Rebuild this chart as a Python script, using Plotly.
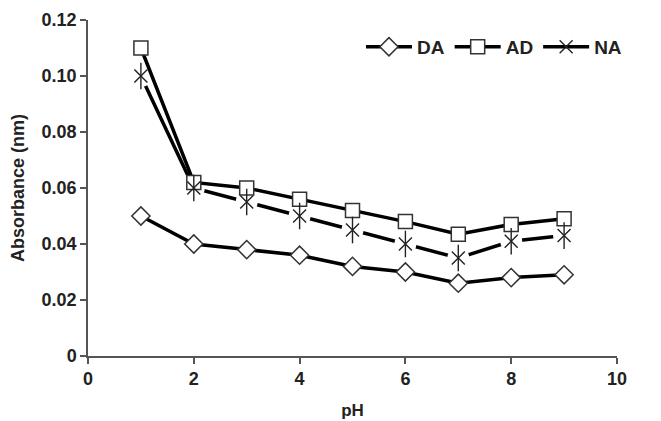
import plotly.graph_objects as go

ph = [1, 2, 3, 4, 5, 6, 7, 8, 9]
da = [0.050, 0.040, 0.038, 0.036, 0.032, 0.030, 0.026, 0.028, 0.029]
ad = [0.110, 0.062, 0.060, 0.056, 0.052, 0.048, 0.0435, 0.047, 0.049]
na = [0.100, 0.060, 0.055, 0.050, 0.045, 0.040, 0.035, 0.041, 0.043]

y_ticks = [0, 0.02, 0.04, 0.06, 0.08, 0.10, 0.12]
y_labels = ["0", "0.02", "0.04", "0.06", "0.08", "0.10", "0.12"]
x_ticks = [0, 2, 4, 6, 8, 10]

font_family = "Liberation Sans, Arial, sans-serif"
ink = "#222"

fig = go.Figure()
fig.add_trace(go.Scatter(
    x=ph, y=da, name="<b>DA</b>", mode="lines+markers",
    line=dict(color="black", width=3.5),
    marker=dict(symbol="diamond", size=14, color="white", line=dict(color="#333", width=1.5)),
    legendrank=1,
))
fig.add_trace(go.Scatter(
    x=ph, y=na, name="<b>NA</b>", mode="lines+markers",
    line=dict(color="black", width=3.5),
    marker=dict(symbol="x-thin-open", size=13, color=ink, line=dict(color=ink, width=1.4)),
    legendrank=3,
))
# white halo around the NA markers (gap in the line)
fig.add_trace(go.Scatter(
    x=ph, y=na, mode="markers", showlegend=False, hoverinfo="skip",
    marker=dict(symbol="circle", size=22, color="white", line=dict(width=0)),
))
fig.add_trace(go.Scatter(
    x=ph, y=ad, name="<b>AD</b>", mode="lines+markers",
    line=dict(color="black", width=3.5),
    marker=dict(symbol="square", size=14, color="white", line=dict(color="#333", width=1.5)),
    legendrank=2,
))
fig.add_trace(go.Scatter(
    x=ph, y=na, mode="markers", showlegend=False, hoverinfo="skip",
    marker=dict(symbol="x-thin-open", size=13, color=ink, line=dict(color=ink, width=1.4)),
))
fig.add_trace(go.Scatter(
    x=ph, y=na, mode="markers", showlegend=False, hoverinfo="skip",
    marker=dict(symbol="line-ns-open", size=19, color=ink, line=dict(color=ink, width=1.4)),
))

axis_common = dict(
    showgrid=False, zeroline=False, showline=True, linecolor="#555", linewidth=1.5,
    ticks="outside", ticklen=6, tickcolor="#555", tickwidth=1.5, automargin=False,
    tickfont=dict(family=font_family, size=18, color=ink),
)

fig.update_layout(
    width=661, height=421,
    margin=dict(l=80, r=52, t=12, b=73),
    paper_bgcolor="white", plot_bgcolor="white",
    font=dict(family=font_family, size=17, color=ink),
    showlegend=True,
    legend=dict(orientation="h", x=0.516, y=0.92, xanchor="left", yanchor="middle",
                bgcolor="rgba(0,0,0,0)", font=dict(family=font_family, size=19, color=ink),
                itemwidth=46, traceorder="normal"),
    xaxis=dict(range=[0, 10], tickvals=x_ticks, ticktext=[f"<b>{v}</b>" for v in x_ticks],
               title=dict(text="<b>pH</b>", font=dict(family=font_family, size=17, color=ink), standoff=16),
               **axis_common),
    yaxis=dict(range=[0, 0.12], tickvals=y_ticks, ticktext=[f"<b>{v}</b>" for v in y_labels],
               title=dict(text="<b>Absorbance (nm)</b>", font=dict(family=font_family, size=18, color=ink), standoff=12),
               **axis_common),
)

fig.write_html("out.html")
